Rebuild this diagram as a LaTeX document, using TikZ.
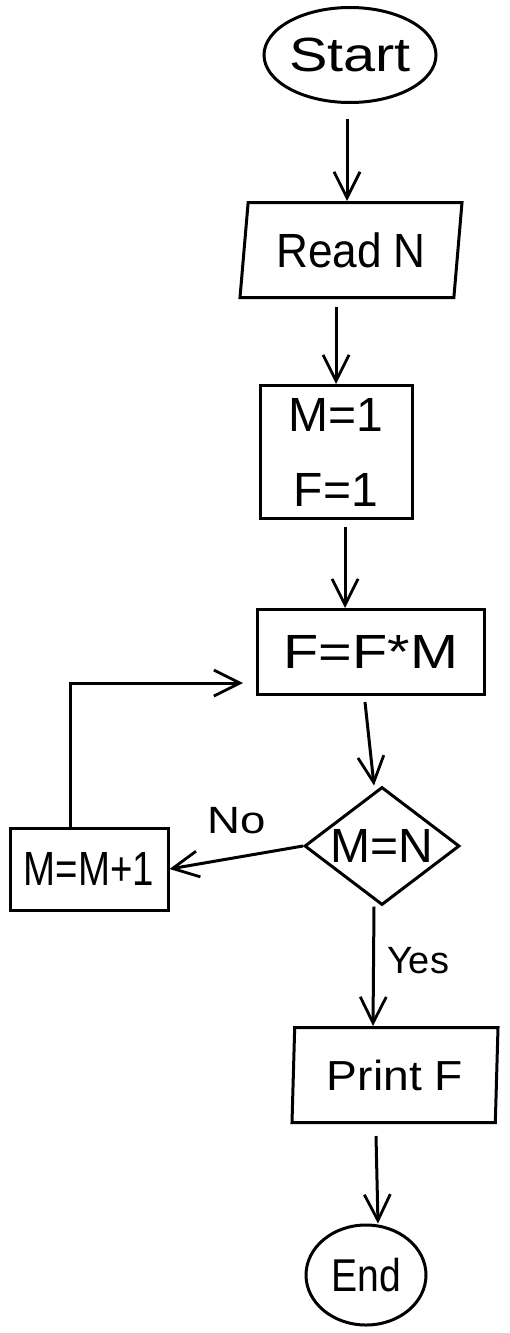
\documentclass[tikz,border=0pt]{standalone}
\usepackage{fontspec}
\setmainfont{Liberation Sans}
\usetikzlibrary{shapes.geometric,arrows.meta}
\newcommand\hsc[2]{\scalebox{#1}[1]{#2}}
\begin{document}
\begin{tikzpicture}[x=1pt,y=-1pt,
  every node/.style={font=\fontsize{48}{75}\selectfont, line width=3pt, inner sep=0pt},
  box/.style={draw, rectangle},
  io/.style={draw, trapezium, trapezium stretches body},
  term/.style={draw, ellipse},
  arr/.style={draw, line width=3pt, -{Straight Barb[length=26pt,width=26pt,line width=2.8pt]}},
  lab/.style={font=\fontsize{38}{40}\selectfont}]
\useasboundingbox (0,0) rectangle (510,1333);
\node[term, minimum width=172pt, minimum height=95pt] (start) at (350,55) {\makebox[0pt]{\hsc{1.2}{Start}}};
\node[io, minimum width=222pt, minimum height=95pt, trapezium left angle=77, trapezium right angle=103] (read) at (351,250) {\makebox[0pt]{\hsc{0.92}{Read N}}};
\node[box, minimum width=152pt, minimum height=133pt, align=center] (init) at (336,452) {M=1\\F=1};
\node[box, minimum width=227pt, minimum height=85pt] (fm) at (371,652) {\makebox[0pt]{\hsc{1.2}{F=F*M}}};
\node[draw, diamond, minimum width=155pt, minimum height=118pt] (dec) at (382,846) {\makebox[0pt]{M=N}};
\node[box, minimum width=158pt, minimum height=82pt] (inc) at (89,869) {\makebox[0pt]{\hsc{0.8}{M=M+1}}};
\node[io, minimum width=206pt, minimum height=95pt, trapezium left angle=85, trapezium right angle=95] (print) at (395,1075) {\makebox[0pt]{\fontsize{42}{50}\selectfont\hsc{1.1}{Print F}}};
\node[term, minimum width=120pt, minimum height=100pt] (end) at (366,1275) {\makebox[0pt]{\fontsize{46}{50}\selectfont\hsc{0.85}{End}}};

\draw[arr] ([shift={(-3,15)}]start.south) -- ([xshift=-4]read.north);
\draw[arr] ([shift={(-15,8)}]read.south) -- (init.north);
\draw[arr] ([shift={(9,7)}]init.south) -- ([xshift=-26]fm.north);
\draw[arr] ([shift={(-6,6)}]fm.south) -- ([xshift=-8]dec.north);
\draw[arr] (dec.west) -- node[lab, above=22pt] {\hsc{1.2}{No}} (inc.east);
\draw[arr] ([xshift=-19]inc.north) |- ([shift={(-13,31)}]fm.west);
\draw[arr] ([xshift=-8]dec.south) -- node[lab, right=12pt, pos=0.45] {Yes} ([xshift=-22]print.north);
\draw[arr] ([shift={(-19,12)}]print.south) -- ([xshift=12]end.north);
\end{tikzpicture}
\end{document}
